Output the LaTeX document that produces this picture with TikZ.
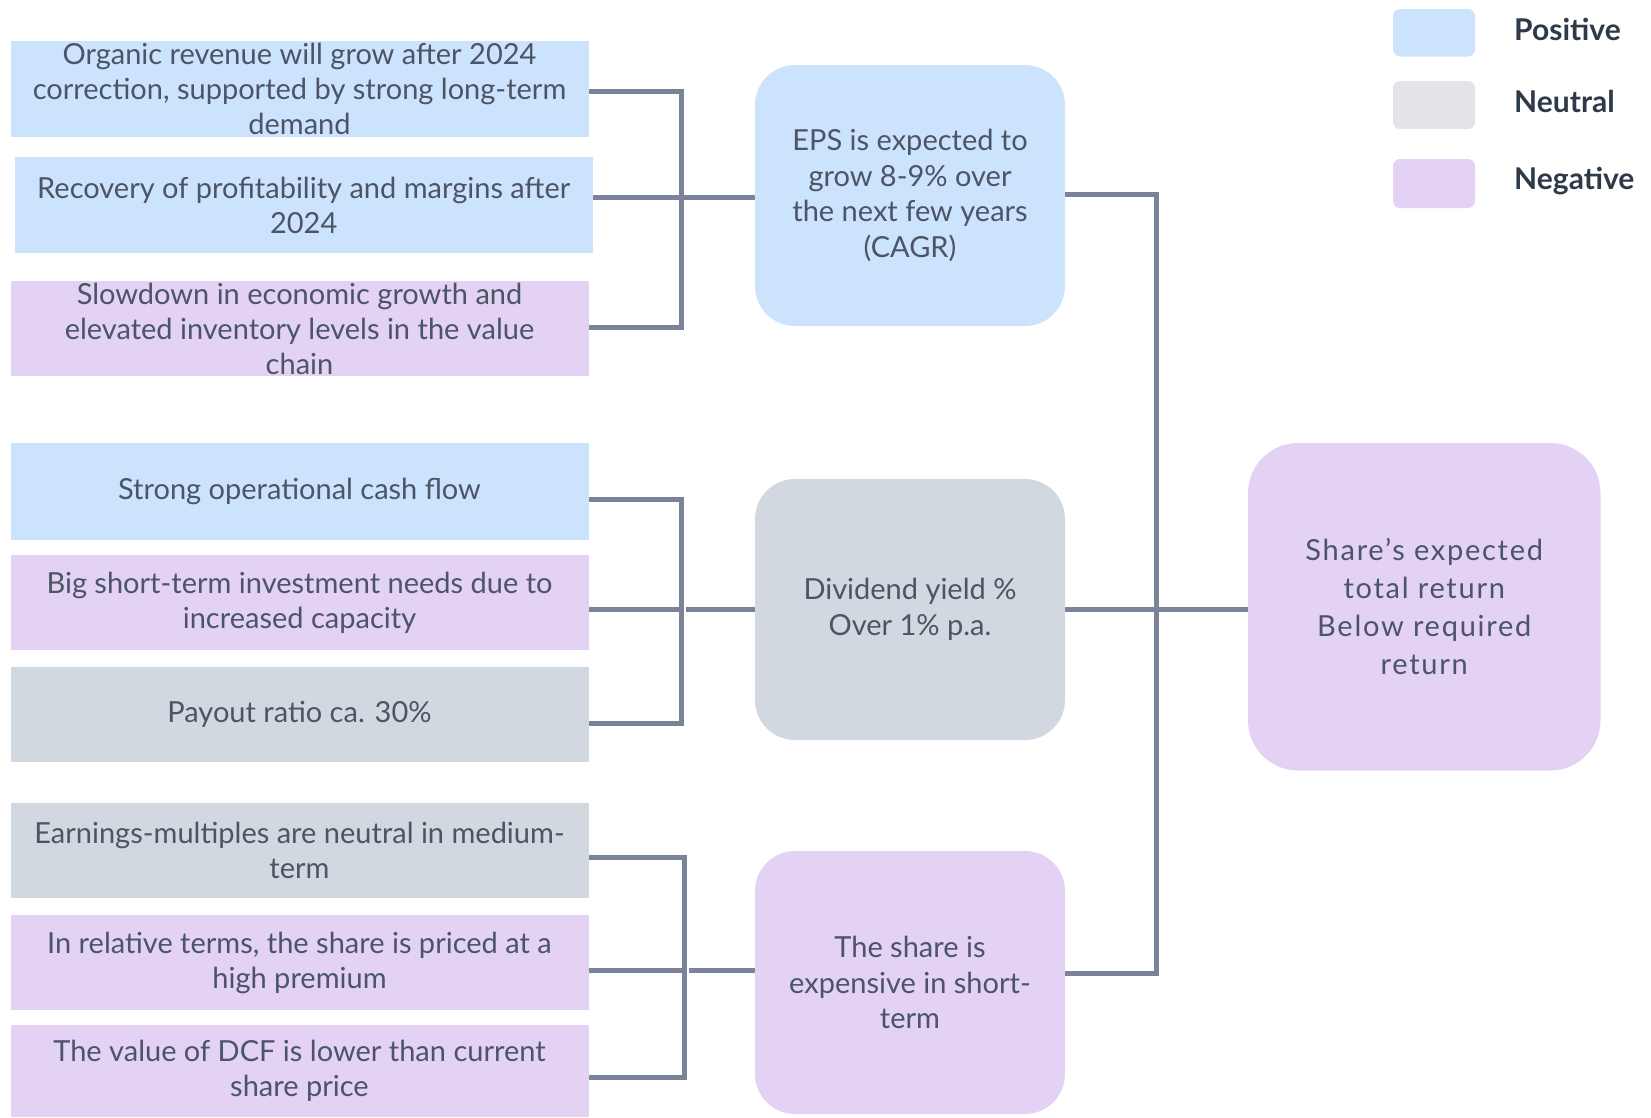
\documentclass[tikz,border=0pt]{standalone}
\usepackage{fontspec}
\setmainfont{Lato}
\usetikzlibrary{calc}
\definecolor{pos}{RGB}{204,227,253}
\definecolor{neu}{RGB}{209,216,224}
\definecolor{neulegend}{RGB}{227,228,232}
\definecolor{neg}{RGB}{227,210,243}
\definecolor{txt}{RGB}{75,85,102}
\definecolor{legtxt}{RGB}{46,58,72}
\definecolor{conncol}{RGB}{122,131,152}
\begin{document}
\begin{tikzpicture}[x=1pt,y=-1pt,
  lbox/.style={minimum width=578pt, inner sep=0pt, align=center, text=txt,
    font=\fontsize{29}{35}\selectfont},
  rbox/.style={minimum width=310pt, inner sep=0pt, align=center, text=txt,
    rounded corners=40pt, font=\fontsize{29}{35.5}\selectfont},
  legsq/.style={minimum width=82pt, inner sep=0pt, rounded corners=7pt},
  legtext/.style={anchor=base west, inner sep=0pt, text=legtxt,
    font=\fontsize{30}{36}\selectfont\bfseries},
  cn/.style={draw=conncol, line width=5pt}
]
\useasboundingbox (0,0) rectangle (1651,1117);

% left boxes
\node[lbox, fill=pos, minimum height=96pt] (B1) at (299.5,89)
  {Organic revenue will grow after 2024\\correction, supported by strong long-term\\demand};
\node[lbox, fill=pos, minimum height=96pt] (B2) at (303.7,205)
  {Recovery of profitability and margins after\\2024};
\node[lbox, fill=neg, minimum height=95pt] (B3) at (299.5,328.5)
  {Slowdown in economic growth and\\elevated inventory levels in the value\\chain};
\node[lbox, fill=pos, minimum height=97pt] (B4) at (299.5,491.5)
  {Strong operational cash flow};
\node[lbox, fill=neg, minimum height=95pt] (B5) at (299.5,602.5)
  {Big short-term investment needs due to\\increased capacity};
\node[lbox, fill=neu, minimum height=95pt] (B6) at (299.5,714.5)
  {Payout ratio ca. 30\%};
\node[lbox, fill=neu, minimum height=95pt] (B7) at (299.5,850.5)
  {Earnings-multiples are neutral in medium-\\term};
\node[lbox, fill=neg, minimum height=95pt] (B8) at (299.5,962.5)
  {In relative terms, the share is priced at a\\high premium};
\node[lbox, fill=neg, minimum height=92pt] (B9) at (299.5,1071)
  {The value of DCF is lower than current\\share price};

% middle boxes
\node[rbox, fill=pos, minimum height=261pt] (EPS) at (910,195.5)
  {EPS is expected to\\grow 8-9\% over\\the next few years\\(CAGR)};
\node[rbox, fill=neu, minimum height=261pt] (Div) at (910,609.5)
  {Dividend yield \%\\Over 1\% p.a.};
\node[rbox, fill=neg, minimum height=263pt] (Share) at (910,982.5)
  {The share is\\expensive in short-\\term};

% final box
\node[rbox, fill=neg, minimum width=352.5pt, minimum height=327.5pt,
  rounded corners=50pt, font=\fontsize{29}{38}\selectfont\addfontfeatures{LetterSpace=6}] (Final) at (1424.25,606.75)
  {Share’s expected\\total return\\Below required\\return};

% legend
\node[legsq, fill=pos, minimum height=47.5pt] (LP) at (1434,32.75) {};
\node[legsq, fill=neulegend, minimum height=48pt] (LN) at (1434,105) {};
\node[legsq, fill=neg, minimum height=49pt] (LG) at (1434,183.5) {};
\node[legtext] (TP) at (1514,40) {Positive};
\node[legtext] (TN) at (1514,112) {Neutral};
\node[legtext] (TG) at (1514,189) {Negative};

% group 1 connectors
\draw[cn] ([yshift=-2.6pt]B1.east) -- ++(92.4,0) |- ([yshift=1pt]B3.east);
\draw[cn] ([yshift=8pt]B2.east) coordinate (m1) -- (m1 -| EPS.west);

% group 2 connectors
\draw[cn] ([yshift=-7.5pt]B4.east) -- ++(92.4,0) |- ([yshift=-8.5pt]B6.east);
\draw[cn] ([yshift=-6.5pt]B5.east) coordinate (m2) -- ++(92.4,0);
\draw[cn] ($(m2)+(97,0)$) -- (m2 -| Div.west);

% group 3 connectors
\draw[cn] ([yshift=-7pt]B7.east) -- ++(95.4,0) |- ([yshift=-6pt]B9.east);
\draw[cn] ([yshift=-7.5pt]B8.east) coordinate (m3) -- ++(95.4,0);
\draw[cn] ($(m3)+(100,0)$) -- (m3 -| Share.west);

% right connectors
\draw[cn] ([yshift=1.5pt]EPS.east) -- ++(91,0) |- ([yshift=9.5pt]Share.east);
\draw[cn] (Div.east) -- (Div.east -| Final.west);
\end{tikzpicture}
\end{document}
